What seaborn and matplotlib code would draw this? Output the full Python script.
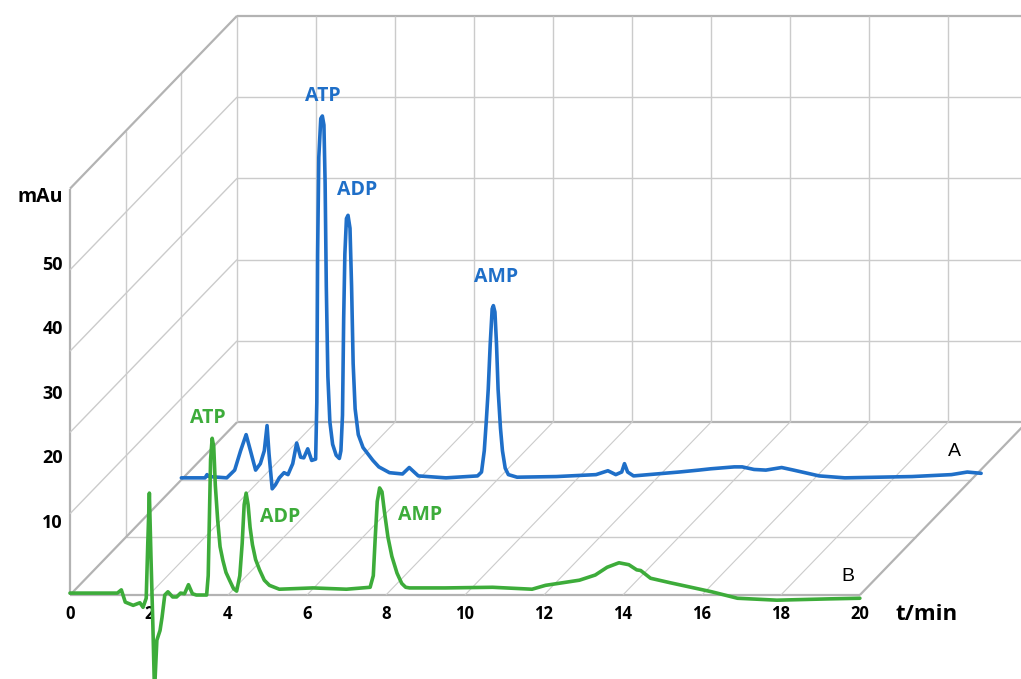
import numpy as np
import pandas as pd
import seaborn as sns
import matplotlib.pyplot as plt

# chromatogram A (back trace, blue)
t_a = [0.0, 0.6, 0.65, 0.7, 1.15, 1.35, 1.5, 1.64, 1.75, 1.88, 2.0, 2.1, 2.17, 2.22, 2.3,
       2.38, 2.48, 2.6, 2.7, 2.82, 2.92, 3.02, 3.1, 3.2, 3.3, 3.4, 3.43, 3.45, 3.48, 3.53,
       3.57, 3.61, 3.64, 3.67, 3.71, 3.76, 3.83, 3.92, 4.0, 4.04, 4.08, 4.11, 4.14, 4.18,
       4.22, 4.27, 4.31, 4.35, 4.4, 4.48, 4.6, 4.75, 4.85, 5.0, 5.27, 5.6, 5.77, 6.0, 6.7,
       7.5, 7.6, 7.67, 7.72, 7.77, 7.82, 7.87, 7.9, 7.94, 7.98, 8.02, 8.08, 8.13, 8.2,
       8.28, 8.5, 9.5, 10.5, 10.8, 11.0, 11.15, 11.22, 11.3, 11.45, 12.6, 13.1,
       13.4, 14.0, 14.2, 14.5, 14.8, 15.2, 15.5, 16.15, 16.8, 18.5, 19.5, 19.9, 20.25]
mau_a = [0.3, 0.3, 0.8, 0.5, 0.3, 1.5, 4.5, 7.0, 4.5, 1.5, 2.5, 4.5, 8.4, 4.0, -1.4,
         -0.8, 0.3, 1.1, 0.8, 2.5, 5.7, 3.5, 3.4, 4.8, 3.0, 3.2, 12, 35, 50, 56,
         56.4, 55, 46, 30, 16, 9, 5.5, 3.8, 3.3, 4.5, 10, 25, 35, 40.5,
         41, 39, 30, 18, 11, 7, 5, 3.8, 3.0, 2.0, 1.1, 0.9, 1.9, 0.6, 0.3,
         0.6, 1.2, 4.5, 9, 14, 21, 26.5, 27, 26, 21, 14, 8, 4.5, 1.8,
         0.8, 0.4, 0.5, 0.8, 1.4, 0.8, 1.2, 2.5, 1.2, 0.6, 1.2, 1.5,
         1.7, 2.0, 2.0, 1.6, 1.5, 1.9, 1.5, 0.6, 0.3, 0.5, 0.8, 1.2, 1.0]

# chromatogram B (front trace, green)
t_b = [0.0, 1.2, 1.3, 1.4, 1.6, 1.77, 1.85, 1.93, 1.97, 2.01, 2.05, 2.1, 2.14, 2.2, 2.28,
       2.33, 2.4, 2.48, 2.6, 2.7, 2.8, 2.9, 3.0, 3.1, 3.2, 3.46, 3.5, 3.53, 3.56, 3.6,
       3.64, 3.68, 3.74, 3.8, 3.87, 3.95, 4.04, 4.14, 4.22, 4.3, 4.36, 4.41, 4.46, 4.51,
       4.56, 4.62, 4.7, 4.8, 4.92, 5.05, 5.3, 6.15, 7.0, 7.6, 7.68, 7.73, 7.78, 7.84,
       7.9, 7.96, 8.05, 8.15, 8.28, 8.4, 8.5, 8.6, 9.5, 10.7, 11.7, 12.04, 12.9,
       13.3, 13.6, 13.9, 14.15, 14.35, 14.45, 14.7, 15.2, 15.8, 16.25, 16.9, 17.9, 19.2, 20.0]
mau_b = [0.3, 0.3, 0.8, -1.1, -1.6, -1.2, -1.9, -0.5, 8, 15.8, 6, -5, -15, -7, -5.5,
         -3.5, 0, 0.5, -0.3, -0.3, 0.3, 0.2, 1.6, 0.2, 0, 0, 3, 12, 21, 24.3,
         23, 17, 11.6, 7.5, 5.4, 3.5, 2.3, 1.0, 0.6, 3, 8, 14, 15.8, 14,
         10.5, 7.8, 5.5, 3.9, 2.3, 1.5, 0.9, 1.1, 0.9, 1.2, 3, 9, 14.5, 16.6,
         16, 13, 9, 6, 3.4, 1.8, 1.2, 1.1, 1.1, 1.2, 0.9, 1.5, 2.3,
         3.1, 4.3, 5.0, 4.7, 3.9, 3.8, 2.6, 1.9, 1.1, 0.5, -0.5, -0.8, -0.6, -0.5]

x_ticks = [0, 2, 4, 6, 8, 10, 12, 14, 16, 18, 20]
y_ticks = [10, 20, 30, 40, 50]

# peak labels: (trace, text, t, mAu)
peak_labels = [("A", "ATP", 3.57, 59.5), ("A", "ADP", 4.45, 45.0), ("A", "AMP", 7.98, 31.5),
               ("B", "ATP", 3.49, 27.4), ("B", "ADP", 5.32, 12.1), ("B", "AMP", 8.86, 12.4)]

blue = "#1f6fc8"
green = "#3dac3a"
grid_c = "#cbcbcb"
edge_c = "#b3b3b3"

# pseudo-3D box
T_MAX = 20
H = 63.0      # wall height in mAu
DX = 4.23     # depth shift in minutes
DY = 26.8     # depth shift in mAu
depth = {"A": 2 / 3, "B": 0.0}

sns.set_style("white")
plt.rcParams["font.family"] = ["Open Sans", "DejaVu Sans"]

fig = plt.figure(figsize=(10.21, 6.79), dpi=100)
ax = fig.add_axes([0, 0, 1, 1])


def seg(x0, y0, x1, y1, dark=False, lw=None):
    ax.plot([x0, x1], [y0, y1], color=edge_c if dark else grid_c,
            lw=lw if lw else (1.6 if dark else 1.0), zorder=1, solid_capstyle="butt")


# back wall
for k in range(6):
    y = DY + k * H / 5
    seg(DX, y, DX + T_MAX, y, dark=(k in (0, 5)))
for t in x_ticks:
    seg(DX + t, DY, DX + t, DY + H)

# left wall
seg(0, 0, 0, H, dark=True)
for d in (1 / 3, 2 / 3):
    seg(d * DX, d * DY, d * DX, d * DY + H)
for k in range(1, 6):
    seg(0, k * H / 5, DX, DY + k * H / 5, dark=(k == 5))

# floor
for i, d in enumerate((0, 1 / 3, 2 / 3)):
    seg(d * DX, d * DY, d * DX + T_MAX, d * DY, dark=(i == 0))
for t in x_ticks:
    seg(t, 0, t + DX, DY, dark=(t in (0, T_MAX)), lw=None if t in (0, T_MAX) else 0.8)

# traces
df_a = pd.DataFrame({"x": np.array(t_a) + depth["A"] * DX, "y": np.array(mau_a) + depth["A"] * DY})
df_b = pd.DataFrame({"x": np.array(t_b) + depth["B"] * DX, "y": np.array(mau_b) + depth["B"] * DY})
sns.lineplot(data=df_a, x="x", y="y", color=blue, lw=2.6, estimator=None, sort=False, ax=ax,
             zorder=3, solid_joinstyle="round")
sns.lineplot(data=df_b, x="x", y="y", color=green, lw=2.6, estimator=None, sort=False, ax=ax,
             zorder=4, solid_joinstyle="round")
ax.set_xlim(-1.772, 24.08)
ax.set_ylim(-13.02, 92.25)
ax.axis("off")

for trace, txt, t, v in peak_labels:
    ax.text(t + depth[trace] * DX, v + depth[trace] * DY, txt, color=blue if trace == "A" else green,
            fontsize=14, fontweight="bold", ha="center", va="center", zorder=5)

ax.text(22.4, 22.2, "A", fontsize=14, color="black", family=["Liberation Sans", "DejaVu Sans"],
        ha="center", va="center")
ax.text(19.7, 2.8, "B", fontsize=14, color="black", family=["Liberation Sans", "DejaVu Sans"],
        ha="center", va="center")

# tick labels
for t in x_ticks:
    ax.text(t, -3.0, str(t), fontsize=12, fontweight="bold", color="black", ha="center", va="center")
ax.text(21.7, -3.0, "t/min", fontsize=16, fontweight="bold", color="black", ha="center", va="center")
for v in y_ticks:
    ax.text(-0.18, v + 1.2, str(v), fontsize=13, fontweight="bold", color="black", ha="right", va="center")
ax.text(-0.18, 61.7, "mAu", fontsize=14, fontweight="bold", color="black", ha="right", va="center")

fig.savefig("out.png", dpi=100)
